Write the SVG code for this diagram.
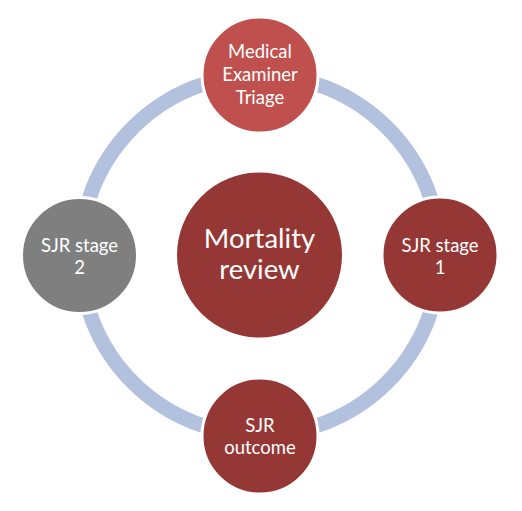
<svg xmlns="http://www.w3.org/2000/svg" width="522" height="511" viewBox="0 0 522 511">
<style>
.node{stroke:#fff;stroke-width:3}
.red{fill:#953735}
.light{fill:#C0504D}
.gray{fill:#7F7F7F}
.t{font-family:Lato,"Open Sans","Liberation Sans",sans-serif;fill:#fff;text-anchor:middle;font-size:18.5px}
.big{font-size:27.5px}
</style>
<rect width="522" height="511" fill="#fff"/>
<g id="connectors">
<circle cx="260" cy="255" r="180" fill="none" stroke="#B2C2DE" stroke-width="15"/>
</g>
<g id="center">
<circle class="node red" cx="259.5" cy="255" r="84"/>
<text class="t big" x="259.5" y="248">Mortality</text>
<text class="t big" x="259.5" y="279">review</text>
</g>
<g id="triage">
<circle class="node light" cx="260" cy="75" r="58"/>
<text class="t" x="260" y="58">Medical</text>
<text class="t" x="260" y="81">Examiner</text>
<text class="t" x="260" y="104">Triage</text>
</g>
<g id="stage1">
<circle class="node red" cx="440" cy="255" r="58"/>
<text class="t" x="440" y="252">SJR stage</text>
<text class="t" x="440" y="274">1</text>
</g>
<g id="outcome">
<circle class="node red" cx="260" cy="436" r="58"/>
<text class="t" x="260" y="432">SJR</text>
<text class="t" x="260" y="454">outcome</text>
</g>
<g id="stage2">
<circle class="node gray" cx="79.5" cy="255.5" r="58"/>
<text class="t" x="79.5" y="252">SJR stage</text>
<text class="t" x="79.5" y="274">2</text>
</g>
</svg>
